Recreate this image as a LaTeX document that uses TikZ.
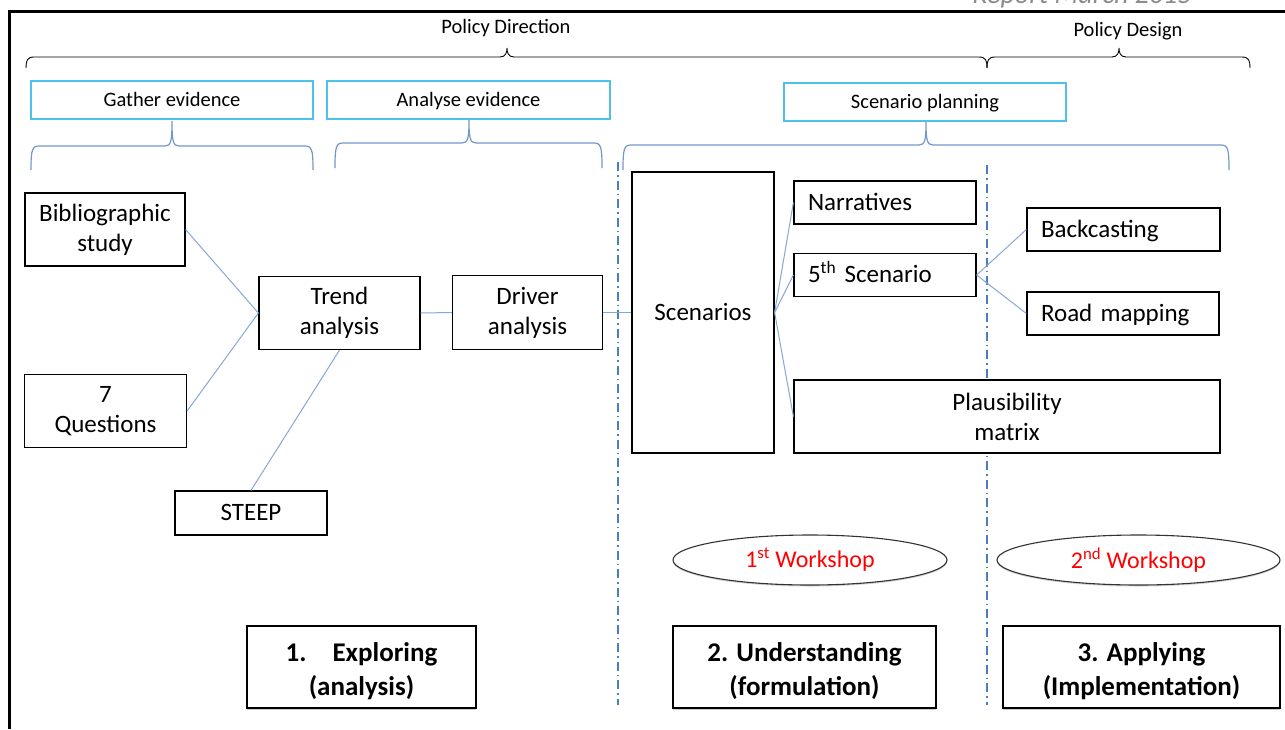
\documentclass[tikz,border=0pt]{standalone}
\usepackage{fontspec}
\setmainfont{Carlito}
\usetikzlibrary{shapes.geometric,shadows}
\definecolor{cyanb}{HTML}{4FC1E9}
\definecolor{linkb}{HTML}{86A8D8}
\definecolor{braceb}{HTML}{7297CC}
\definecolor{sepb}{HTML}{4A7EC0}
\definecolor{grayt}{HTML}{8C8C8C}
\newcommand\mybrace[7]{%
  \draw[#1] (#2,#5) .. controls (#2,#6+4) and (#2+1,#6) .. (#2+8,#6)
    -- (#4-7,#6) .. controls (#4-1,#6) and (#4,#6-5) .. (#4,#7)
    .. controls (#4,#6-5) and (#4+1,#6) .. (#4+7,#6)
    -- (#3-8,#6) .. controls (#3-1,#6) and (#3,#6+4) .. (#3,#5);}
\newcommand\stagestrut{\rule{0pt}{27pt}}
\tikzset{
  box/.style={draw=black, line width=1.2pt, fill=white, inner sep=0pt, align=center,
    font=\fontsize{25}{30}\selectfont},
  onebox/.style={box, text height=19pt, text depth=4pt},
  lbox/.style={onebox, align=left, inner xsep=14pt},
  cbox/.style={draw=cyanb, line width=1.1pt, fill=white, inner sep=0pt, align=center,
    font=\fontsize{20.5}{24}\selectfont, text height=16pt, text depth=4pt},
  stagebox/.style={box, line width=1.2pt, font=\fontsize{27}{34}\selectfont\bfseries,
    drop shadow={shadow xshift=0pt, shadow yshift=-1.5pt, fill=black!40}},
  wshop/.style={ellipse, draw=black!80, line width=1.1pt, fill=white, inner sep=0pt,
    text=red, font=\fontsize{24}{28}\selectfont,
    drop shadow={shadow xshift=0pt, shadow yshift=-1.5pt, fill=black!35}},
  link/.style={draw=linkb, line width=1pt},
  bracec/.style={draw=braceb, line width=1.2pt},
  braceblk/.style={draw=black, line width=0.9pt},
  sepline/.style={draw=sepb, line width=1.5pt, dash pattern=on 9pt off 4pt on 1.5pt off 4pt},
  toplabel/.style={font=\fontsize{20.5}{24}\selectfont},
}
\begin{document}
\begin{tikzpicture}[x=1pt, y=-1pt]
\useasboundingbox (0,0) rectangle (1285,729);
\clip (0,0) rectangle (1285,729);
\fill[white] (0,0) rectangle (1285,729);

% header text and frame
\node[anchor=base, font=\fontsize{28}{30}\selectfont\itshape, text=grayt] (report) at (1082,3.5) {Report March 2015};
\coordinate (fTR) at (1285,11.3);
\coordinate (fTL) at (9.2,11.3);
\coordinate (fBL) at (9.2,729);
\draw[line width=2.6pt] (fTR) -- (fTL) -- (fBL);

% top labels and black braces
\node[toplabel] (pdir) at (506,28) {Policy Direction};
\node[toplabel] (pdes) at (1128,31) {Policy Design};
\mybrace{braceblk}{26}{987}{507}{68}{57}{48}
\mybrace{braceblk}{987}{1250}{1119}{68}{57}{48}

% separators
\coordinate (s1t) at (618,162);
\coordinate (s1b) at (618,705);
\coordinate (s2t) at (987,165);
\coordinate (s2b) at (987,705);
\draw[sepline] (s1t) -- (s1b);
\draw[sepline] (s2t) -- (s2b);

% activity boxes
\node[cbox, minimum width=282pt, minimum height=38pt] (gather) at (172,100) {Gather evidence};
\node[cbox, minimum width=283pt, minimum height=38pt] (analyse) at (468.5,100) {Analyse evidence};
\node[cbox, minimum width=282pt, minimum height=38pt] (splan) at (925,102) {Scenario planning};

% blue braces
\mybrace{bracec}{31}{313}{172}{170}{146}{121}
\mybrace{bracec}{335}{602}{469}{168}{143}{120}
\mybrace{bracec}{623}{1229}{926}{170}{145}{122}

% main boxes
\node[box, minimum width=160pt, minimum height=73pt] (bib) at (105,229.5) {Bibliographic\\study};
\node[box, minimum width=162pt, minimum height=73pt] (q7) at (105.5,411) {7\\Questions};
\node[onebox, minimum width=152pt, minimum height=44pt] (steep) at (251,513) {STEEP};
\node[box, minimum width=161pt, minimum height=73pt] (trend) at (339.5,313) {Trend\\analysis};
\node[box, minimum width=150pt, minimum height=74pt] (driver) at (527.5,312.5) {Driver\\analysis};
\node[onebox, minimum width=142pt, minimum height=281pt] (scen) at (703,312.5) {Scenarios};
\node[lbox, text width=154pt, minimum height=43pt] (narr) at (885,202.5) {Narratives};
\node[lbox, text width=154pt, minimum height=43pt] (fifth) at (885,275) {5\textsuperscript{th} Scenario};
\node[lbox, text width=165pt, minimum height=43pt] (back) at (1123.5,229.5) {Backcasting};
\node[lbox, text width=164pt, minimum height=43pt] (road) at (1123,313.5) {Road mapping};
\node[box, minimum width=426pt, minimum height=73pt] (plaus) at (1007,416.5) {Plausibility\\matrix};

% workshops
\node[wshop, minimum width=274pt, minimum height=50pt] (ws1) at (810,560) {1\textsuperscript{st} Workshop};
\node[wshop, minimum width=283pt, minimum height=50pt] (ws2) at (1138.5,560) {2\textsuperscript{nd} Workshop};

% stages
\node[stagebox, minimum width=229pt, minimum height=82pt] (st1) at (361.5,667) {\stagestrut 1.\hspace{26pt}Exploring\\(analysis)};
\node[stagebox, minimum width=263pt, minimum height=82pt] (st2) at (804.5,667) {\stagestrut 2. Understanding\\(formulation)};
\node[stagebox, minimum width=277pt, minimum height=82pt] (st3) at (1141.5,667) {\stagestrut 3. Applying\\(Implementation)};

% connectors
\draw[link] (bib.east) -- (trend.west);
\draw[link] (q7.east) -- (trend.west);
\draw[link] (steep.north) -- (trend.south);
\draw[link] (trend.east) -- (driver.west);
\draw[link] (driver.east) -- (scen.west);
\draw[link] (scen.east) -- (narr.west);
\draw[link] (scen.east) -- (fifth.west);
\draw[link] (scen.east) -- (plaus.west);
\draw[link] (fifth.east) -- (back.west);
\draw[link] (fifth.east) -- (road.west);
\end{tikzpicture}
\end{document}
